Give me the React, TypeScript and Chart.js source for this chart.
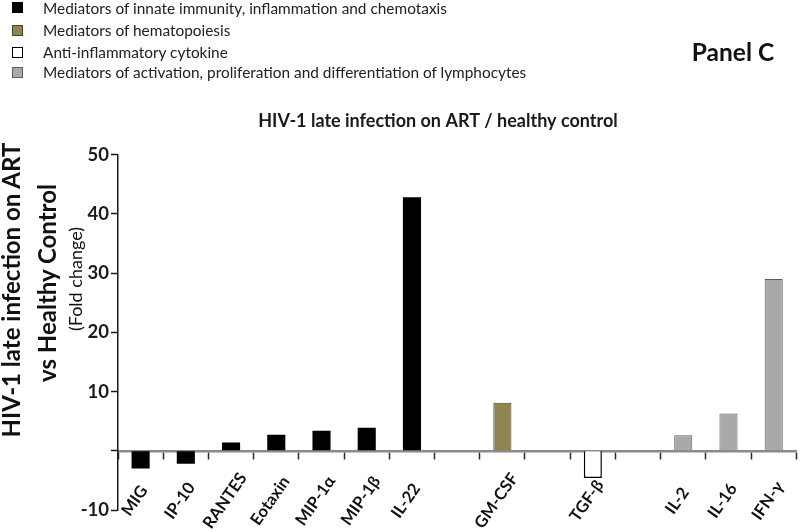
import React, { useEffect, useRef } from 'react';
import { Chart, registerables } from 'chart.js';

Chart.register(...registerables);

// ---- data ----
const categories = ['MIG', 'IP-10', 'RANTES', 'Eotaxin', 'MIP-1α', 'MIP-1β', 'IL-22', '', 'GM-CSF', '', 'TGF-β', '', 'IL-2', 'IL-16', 'IFN-γ'];
const foldChange = [-3.0, -2.2, 1.4, 2.7, 3.4, 3.9, 42.8, null, 8.1, null, -4.6, null, 2.6, 6.3, 29.0];
const groupOfCategory = ['innate', 'innate', 'innate', 'innate', 'innate', 'innate', 'innate', '', 'hemato', '', 'anti', '', 'lympho', 'lympho', 'lympho'];
const groupKeys = ['innate', 'hemato', 'anti', 'lympho'];
const groupNames = [
  'Mediators of innate immunity, inflammation and chemotaxis',
  'Mediators of hematopoiesis',
  'Anti-inflammatory cytokine',
  'Mediators of activation, proliferation and differentiation of lymphocytes',
];
const yTicks = [-10, 0, 10, 20, 30, 40, 50];
const chartTitle = 'HIV-1 late infection on ART / healthy control';
const yTitleLines = ['HIV-1 late infection on ART', 'vs Healthy Control'];
const yTitleSub = '(Fold change)';
const panelLabel = 'Panel C';

// ---- styles ----
const fillOf: Record<string, string> = { innate: '#000000', hemato: '#8e8553', anti: '#ffffff', lympho: '#a9a9a9' };
const borderOf: Record<string, string> = { innate: '#000000', hemato: '#4a4426', anti: '#000000', lympho: '#5c5c5c' };
const borderWOf: Record<string, number> = { innate: 0, hemato: 1, anti: 1.5, lympho: 1 };
const FONT = 'Lato, "Open Sans", sans-serif';

// Excel-style rotated category labels: each label is centred (rather than end-anchored)
// a fixed distance below the zero axis.
const centeredRotatedLabels = {
  id: 'centeredRotatedLabels',
  beforeDraw(chart: any) {
    const xs = chart.scales.x;
    const ys = chart.scales.y;
    if (!xs || !ys) return;
    const items = xs.getLabelItems(chart.chartArea);
    const cy = ys.getPixelForValue(0) + 50;
    items.forEach((item: any, i: number) => {
      const cx = xs.getPixelForTick(i) - 6;
      item.textOffset = 0;
      item.options.textAlign = 'center';
      item.options.textBaseline = 'middle';
      item.options.translation = [cx, cy];
    });
  },
};

export default function App() {
  const canvasRef = useRef<HTMLCanvasElement | null>(null);

  useEffect(() => {
    if (!canvasRef.current) return;
    const chart = new Chart(canvasRef.current, {
      type: 'bar',
      data: {
        labels: categories,
        datasets: [
          {
            data: foldChange as any,
            backgroundColor: groupOfCategory.map((g) => fillOf[g] || '#000'),
            borderColor: groupOfCategory.map((g) => borderOf[g] || '#000'),
            borderWidth: groupOfCategory.map((g) => borderWOf[g] ?? 0),
            barPercentage: 0.4,
            categoryPercentage: 1,
          },
        ],
      },
      plugins: [centeredRotatedLabels],
      options: {
        animation: false,
        responsive: true,
        maintainAspectRatio: false,
        layout: { padding: { left: 78, right: 2, top: 100, bottom: 22 } },
        plugins: {
          legend: { display: false },
          tooltip: { enabled: false },
          title: {
            display: true,
            text: chartTitle,
            color: '#1a1a1a',
            font: { family: FONT, size: 18, weight: 'bold' },
            padding: { top: 10, bottom: 23 },
          },
        },
        scales: {
          x: {
            position: { y: 0 } as any,
            offset: true,
            grid: {
              display: true,
              offset: true,
              drawOnChartArea: false,
              drawTicks: true,
              tickLength: 7,
              tickColor: '#2a2a2a',
              tickWidth: 1.5,
            },
            border: { display: true, color: '#8a8a8a', width: 2.5 },
            ticks: {
              autoSkip: false,
              minRotation: 55,
              maxRotation: 55,
              padding: 10,
              color: '#111',
              font: { family: FONT, size: 16.5, weight: 'bold' },
            },
          },
          y: {
            min: -10,
            max: 50,
            afterBuildTicks: (scale: any) => {
              scale.ticks = yTicks.map((v) => ({ value: v }));
            },
            afterFit: (scale: any) => {
              scale.width = 40;
            },
            grid: {
              display: true,
              drawOnChartArea: false,
              drawTicks: true,
              tickLength: 7,
              tickColor: '#1a1a1a',
              tickWidth: 1.5,
            },
            border: { display: true, color: '#1a1a1a', width: 1.5 },
            ticks: {
              padding: 2,
              color: '#1a1a1a',
              font: { family: FONT, size: 18.5, weight: 'bold' },
              callback: (v: any) => (v === 0 ? '' : String(v)),
            },
          },
        },
      },
    });
    return () => chart.destroy();
  }, []);

  const legendY = [7.5, 30, 52, 72];

  return (
    <div style={{ position: 'fixed', left: 0, top: 0, width: 800, height: 532, background: '#fff', fontFamily: FONT }}>
      <canvas ref={canvasRef} />
      {groupKeys.map((k, i) => (
        <div key={k} style={{ position: 'absolute', left: 12, top: legendY[i], transform: 'translateY(-50%)', display: 'flex', alignItems: 'center', whiteSpace: 'nowrap' }}>
          <div style={{ width: 11, height: 11, boxSizing: 'border-box', background: fillOf[k], border: `1px solid ${k === 'anti' ? '#000' : borderOf[k]}` }} />
          <span style={{ marginLeft: 20, fontSize: 15.4, color: '#222', lineHeight: '18px' }}>{groupNames[i]}</span>
        </div>
      ))}
      <div style={{ position: 'absolute', left: 733, top: 51, transform: 'translate(-50%,-50%)', fontSize: 24.5, fontWeight: 'bold', color: '#111', whiteSpace: 'nowrap' }}>{panelLabel}</div>
      <div style={{ position: 'absolute', left: 11, top: 290, transform: 'translate(-50%,-50%) rotate(-90deg)', fontSize: 24, fontWeight: 'bold', color: '#111', whiteSpace: 'nowrap', lineHeight: '26px' }}>{yTitleLines[0]}</div>
      <div style={{ position: 'absolute', left: 47, top: 283, transform: 'translate(-50%,-50%) rotate(-90deg)', fontSize: 24, fontWeight: 'bold', color: '#111', whiteSpace: 'nowrap', lineHeight: '26px' }}>{yTitleLines[1]}</div>
      <div style={{ position: 'absolute', left: 75, top: 279, transform: 'translate(-50%,-50%) rotate(-90deg)', fontSize: 18, color: '#111', whiteSpace: 'nowrap', lineHeight: '20px' }}>{yTitleSub}</div>
    </div>
  );
}
